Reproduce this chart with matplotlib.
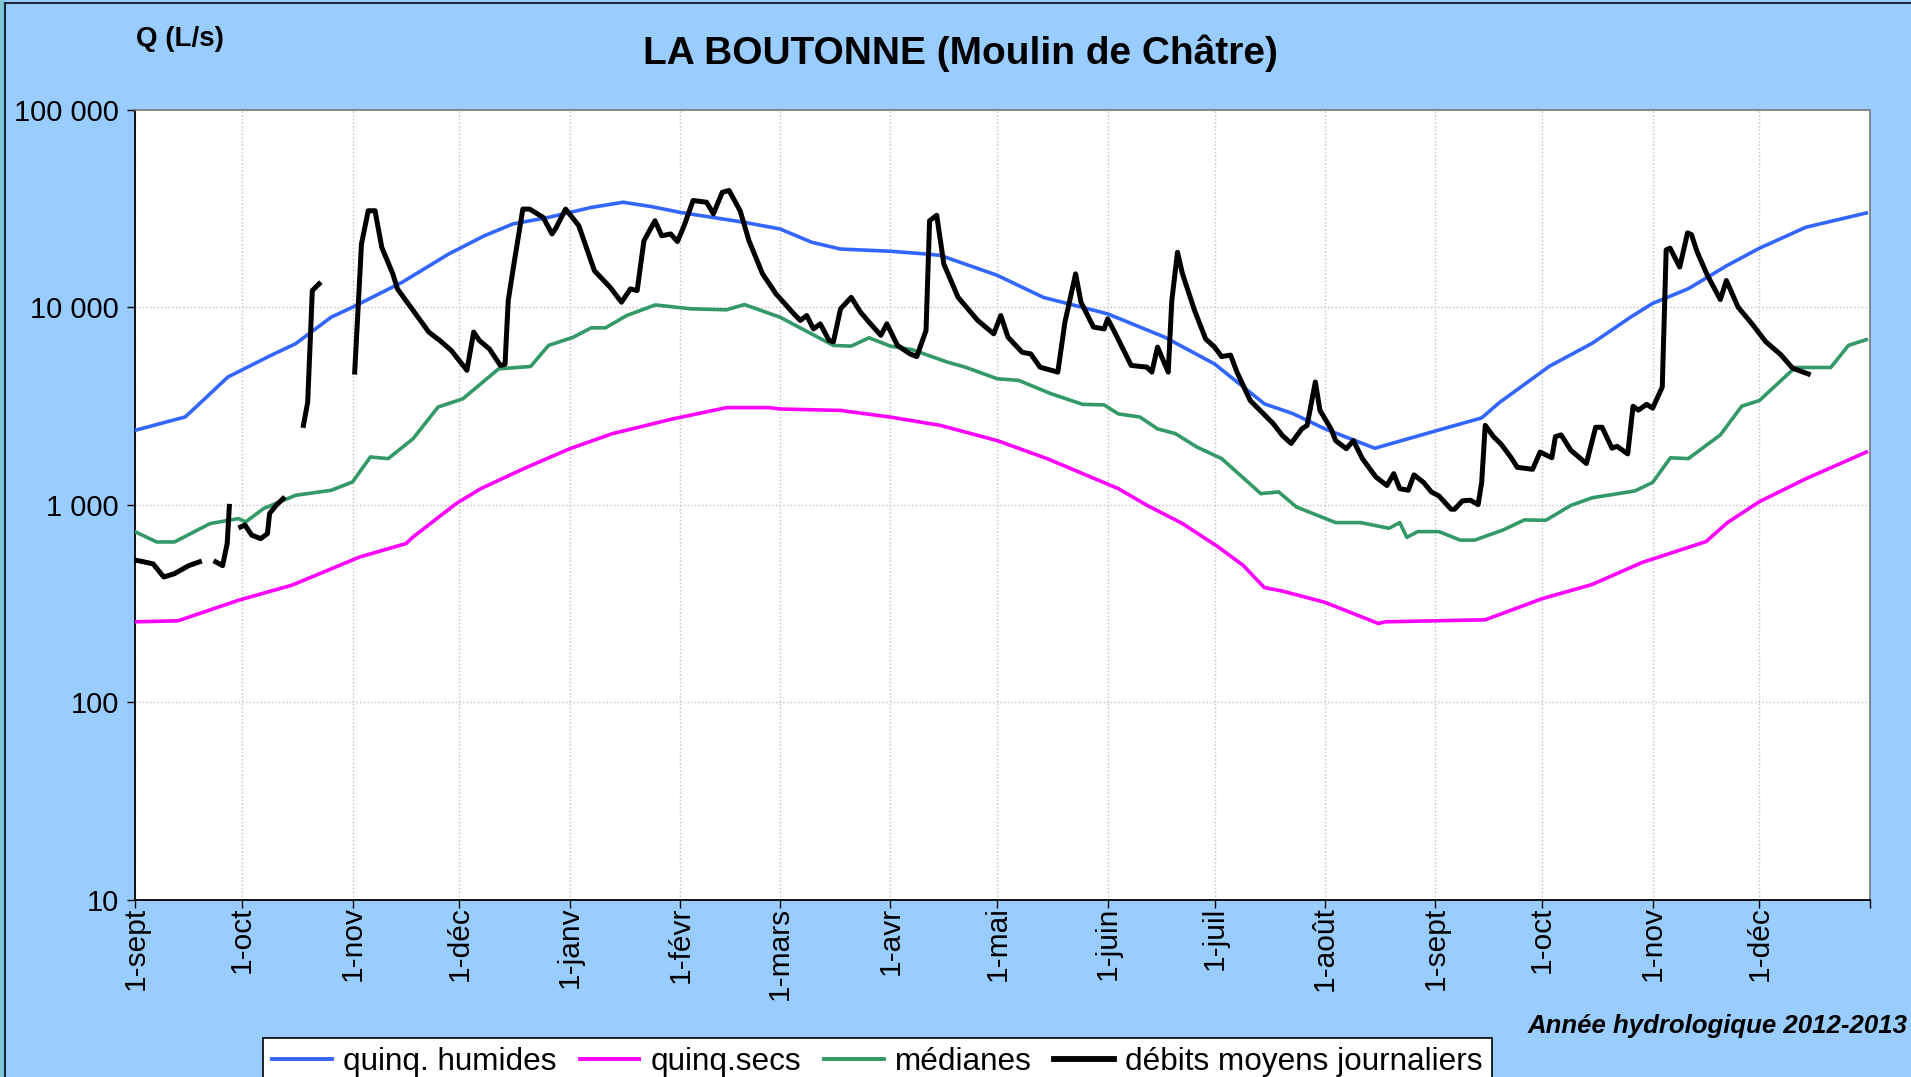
import datetime as dt
import numpy as np
import matplotlib
matplotlib.use('Agg')
import matplotlib.pyplot as plt
import matplotlib.dates as mdates
from matplotlib.lines import Line2D
from matplotlib.patches import Rectangle

plt.rcParams['font.family'] = ['Liberation Sans', 'DejaVu Sans']

# days counted from 1 Sept 2012
T0 = mdates.date2num(dt.datetime(2012, 9, 1))
T_END = mdates.date2num(dt.datetime(2014, 1, 1))

hum_days = [0, 14, 19, 26, 38, 45, 55, 61, 75, 88, 98, 106, 116, 128, 137, 145, 153, 171,
            181, 190, 198, 212, 222, 226, 242, 255, 262, 273, 289, 303, 317, 325, 334, 348,
            365, 378, 383, 397, 409, 420, 426, 436, 447, 456, 469, 486]
hum_q = [2380, 2780, 3370, 4430, 5690, 6530, 8900, 10000, 13400, 18600, 23000, 26400, 28500,
         32000, 34000, 32300, 30200, 26900, 24900, 21300, 19700, 19200, 18600, 18300, 14500,
         11200, 10400, 9250, 7050, 5160, 3240, 2890, 2420, 1930, 2360, 2750, 3290, 5020, 6560,
         8950, 10450, 12400, 16300, 19900, 25400, 30000]

sec_days = [0, 12, 29, 44, 63, 76, 78, 90, 97, 109, 122, 134, 151, 166, 178, 181, 198, 212,
            226, 242, 256, 267, 276, 284, 294, 304, 311, 317, 322, 334, 349, 351, 379, 395,
            409, 423, 441, 447, 456, 469, 486]
sec_q = [255, 258, 328, 391, 543, 635, 686, 1010, 1205, 1520, 1920, 2290, 2720, 3100, 3100,
         3050, 3000, 2775, 2520, 2110, 1710, 1410, 1205, 993, 802, 611, 493, 380, 365, 320,
         250, 255, 261, 334, 394, 509, 650, 811, 1036, 1352, 1846]

med_days = [0, 6, 11, 21, 29, 31, 36, 45, 55, 61, 66, 71, 78, 85, 92, 102, 111, 116, 123, 128,
            132, 138, 146, 156, 166, 171, 181, 196, 201, 206, 212, 218, 228, 233, 242, 248,
            257, 266, 272, 276, 282, 287, 292, 298, 305, 316, 321, 326, 337, 344, 352, 355,
            357, 360, 366, 372, 376, 384, 390, 396, 403, 409, 421, 426, 431, 436, 445, 451,
            456, 466, 476, 481, 486]
med_q = [728, 647, 647, 802, 850, 817, 955, 1115, 1182, 1303, 1743, 1710, 2158, 3120, 3440,
         4870, 5010, 6400, 7050, 7860, 7860, 9080, 10270, 9810, 9700, 10310, 8900, 6400, 6350,
         7000, 6350, 6100, 5270, 4970, 4340, 4260, 3650, 3220, 3200, 2880, 2780, 2420, 2290,
         1960, 1710, 1137, 1160, 973, 811, 811, 759, 811, 682, 730, 730, 661, 661, 744, 837,
         833, 990, 1083, 1173, 1295, 1727, 1710, 2254, 3150, 3370, 4950, 4950, 6410, 6850]

# daily mean flows, nan = missing data
obs_days = [0, 2, 5, 8, 11, 15, 18, np.nan,
            22.6, 24.5, 25.8, 26.4, np.nan,
            29.6, 30.8, 32.7, 35.2, 37.1, 37.7, 39.6, 41.5, np.nan,
            47.2, 48.4, 49.7, 51.6, np.nan,
            61.6, 63.5, 65.4, 67.3, 69.2, 72.3, 73.6, 78, 82.4, 85.5, 88.7, 93.1, 95, 96.6,
            99.4, 102.5, 103.8, 104.7, 106.3, 108.8, 110.7, 114.5, 117, 118.2, 120.8, 124.5,
            128.9, 133.3, 136.5, 139, 140.9, 142.8, 145.9, 147.8, 150.3, 152.2, 154.1, 156.6,
            160.4, 162.3, 164.8, 166.7, 169.8, 172.3, 176.1, 179.9, 184.9,
            186.7, 188.5, 190.4, 192.3, 194.8, 196, 198, 201, 203.6, 206, 209.3, 211, 214,
            217.5, 219.4, 222, 223, 225, 227, 231, 236.5, 241, 243, 245, 249, 251.4, 254, 259,
            261, 264, 265.5, 269, 272, 273, 275.2, 279.6, 284, 285.4, 287, 290, 291, 292.6,
            294, 297.4, 300.5, 303, 305, 307.5, 309.3, 313, 319.5, 322, 324.5, 327.5, 329,
            331.3, 332.6, 335.7, 337, 340, 342, 344.5, 348.3, 351.4, 353.3, 355,
            357.4, 359, 361.7, 363.9, 366, 369.4, 370.4, 372.6, 374.8, 377, 378, 379, 381.3,
            383.5, 386.3, 388, 392.3, 394.4, 397.7, 398.7, 400.3, 403, 407.4, 410, 411.8,
            414.6, 416, 419, 420.5, 422, 424.3, 426, 428.7, 429.8, 430.9, 433.6, 435.8,
            436.9, 438.5, 441.3, 445, 446.7, 450, 454, 457.7, 462, 465.3, 469.7]
obs_q = [523, 515, 501, 430, 447, 491, 513, np.nan,
         513, 491, 635, 980, np.nan,
         771, 788, 700, 673, 713, 902, 994, 1072, np.nan,
         2520, 3300, 12140, 13130, np.nan,
         4690, 20900, 30800, 30800, 20100, 14750, 12380, 9620, 7480, 6780, 6040, 4790, 7480,
         6780, 6150, 5070, 5140, 10800, 16550, 31400, 31400, 28500, 23500, 25400, 31400,
         25900, 15300, 12620, 10600, 12380, 12140, 21700, 27400, 23000, 23500, 21500, 25900,
         34700, 34000, 29700, 38200, 39000, 30800, 21700, 14750, 11670, 9250,
         8570, 9070, 7760, 8230, 6780, 6680, 9810, 11220, 9440, 8400, 7200, 8230, 6400, 5800,
         5620, 7620, 27400, 29200, 16550, 11220, 8570, 7330, 9070, 7050, 5910, 5800, 4970,
         4690, 8400, 14750, 10600, 7930, 7760, 8730, 7330, 5070, 4970, 4690, 6280, 4690,
         10800, 18970, 14750, 9620, 6910, 6280, 5620, 5720, 4690, 3370, 2570, 2245, 2040,
         2420, 2520, 4180, 3000, 2420, 2110, 1920, 2110, 1710, 1380, 1250, 1435, 1205,
         1183, 1415, 1295, 1158, 1107, 948, 948, 1045, 1053, 1000, 1295, 2520, 2210, 2020,
         1727, 1545, 1510, 1846, 1727, 2210, 2255, 1888, 1615, 2465, 2465, 1930, 1975, 1807,
         3150, 3010, 3220, 3080, 3940, 19500, 19900, 15960, 23800, 23300, 19050, 14590,
         10930, 13650, 10000, 8190, 6700, 5740, 4910, 4590]

month_labels = ['1-sept', '1-oct', '1-nov', '1-déc', '1-janv', '1-févr', '1-mars', '1-avr',
                '1-mai', '1-juin', '1-juil', '1-août', '1-sept', '1-oct', '1-nov', '1-déc', '']
y_ticks = [10, 100, 1000, 10000, 100000]
y_labels = ['10', '100', '1 000', '10 000', '100 000']

BG = '#99CCFF'
C_HUM = '#3366FF'
C_SEC = '#FF00FF'
C_MED = '#339966'

fig = plt.figure(figsize=(19.11, 10.77), dpi=100, facecolor=BG)
ax = fig.add_axes([0.0708, 0.1648, 0.9077, 0.7333])
ax.set_facecolor('white')

ax.plot(T0 + np.array(hum_days), hum_q, color=C_HUM, lw=2.6, zorder=3)
ax.plot(T0 + np.array(sec_days), sec_q, color=C_SEC, lw=2.6, zorder=3)
ax.plot(T0 + np.array(med_days), med_q, color=C_MED, lw=2.6, zorder=3)
ax.plot(T0 + np.array(obs_days), obs_q, color='black', lw=3.6, zorder=4)

ax.set_yscale('log')
ax.set_ylim(10, 100000)
ax.set_xlim(T0, T_END)

month_ticks = [mdates.date2num(dt.datetime(2012 + (8 + i) // 12, (8 + i) % 12 + 1, 1))
               for i in range(17)]
ax.set_xticks(month_ticks)
ax.set_xticklabels(month_labels, rotation=90, fontsize=21.5)
ax.set_yticks(y_ticks)
ax.set_yticklabels(y_labels, fontsize=21)
ax.yaxis.set_minor_locator(matplotlib.ticker.NullLocator())
ax.tick_params(axis='x', direction='out', length=6, width=1, pad=-1)
ax.tick_params(axis='y', direction='out', length=6, width=1, pad=6)

ax.grid(True, color='#C0C0C0', linestyle=':', linewidth=1)
ax.set_axisbelow(True)
for s in ['left', 'bottom']:
    ax.spines[s].set_color('black')
    ax.spines[s].set_linewidth(1.3)
for s in ['top', 'right']:
    ax.spines[s].set_color('#808080')
    ax.spines[s].set_linewidth(1.3)

fig.text(0.5024, 0.9505, 'LA BOUTONNE (Moulin de Châtre)', ha='center', va='center',
         fontsize=28, fontweight='bold')
fig.text(0.0712, 0.9637, 'Q (L/s)', ha='left', va='center', fontsize=20, fontweight='bold')
fig.text(0.998, 0.0474, 'Année hydrologique 2012-2013', ha='right', va='center',
         fontsize=18.5, fontweight='bold', style='italic')

handles = [Line2D([], [], color=C_HUM, lw=2.8),
           Line2D([], [], color=C_SEC, lw=2.8),
           Line2D([], [], color=C_MED, lw=2.8),
           Line2D([], [], color='black', lw=4.2)]
names = ['quinq. humides', 'quinq.secs', 'médianes', 'débits moyens journaliers']
leg = fig.legend(handles, names, loc='upper left', bbox_to_anchor=(0.1376, 0.0362), ncol=4,
                 fontsize=22.7, frameon=True, fancybox=False, framealpha=1, edgecolor='black',
                 borderpad=0.3, handlelength=1.9, handletextpad=0.35, columnspacing=0.72,
                 borderaxespad=0)
leg.get_frame().set_linewidth(1.2)

# frame edges of the original picture
fig.patches.append(Rectangle((0, 0), 4 / 1911, 1, transform=fig.transFigure,
                             facecolor='#7FC6D6', edgecolor='none'))
fig.lines.append(Line2D([5 / 1911, 5 / 1911], [0, 1 - 3 / 1077], transform=fig.transFigure,
                        color='#1A2A3A', lw=1.5))
fig.lines.append(Line2D([5 / 1911, 1], [1 - 3 / 1077, 1 - 3 / 1077], transform=fig.transFigure,
                        color='#1A2A3A', lw=1.5))

fig.savefig('out.png', dpi=100, facecolor=BG)
